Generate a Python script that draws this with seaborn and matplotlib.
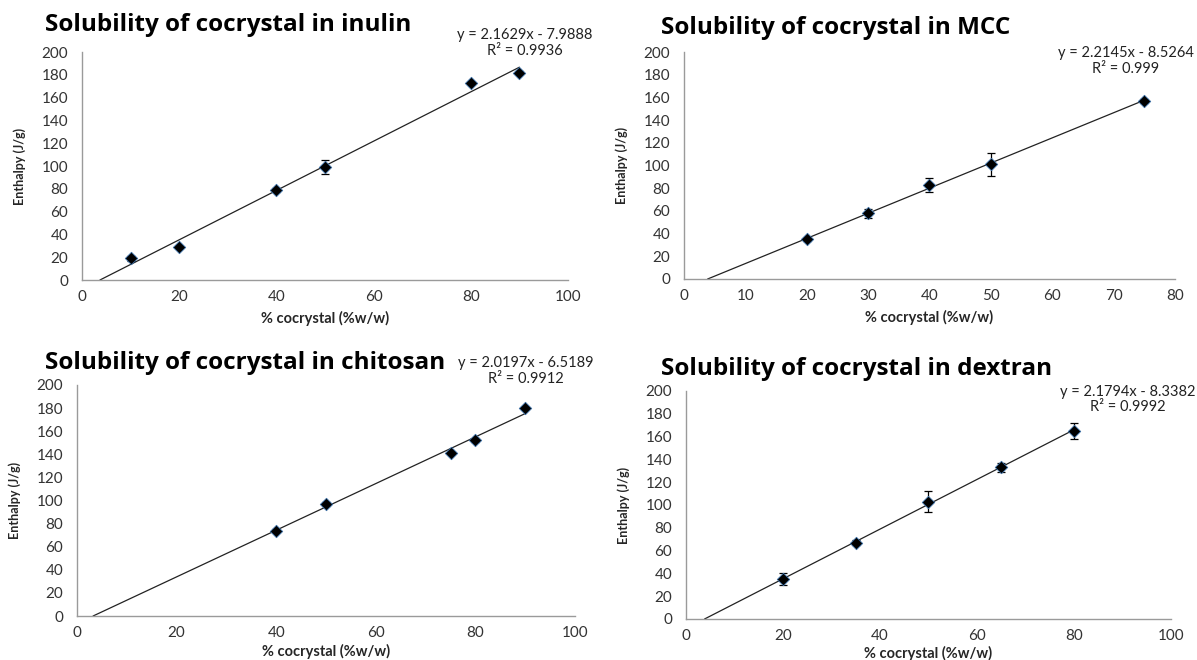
import numpy as np
import pandas as pd
import matplotlib
matplotlib.use("Agg")
import matplotlib.pyplot as plt
import seaborn as sns

sns.set_theme(style="white")
plt.rcParams['font.family'] = ['Lato', 'DejaVu Sans']

# ---- data ----
titles = ["Solubility of cocrystal in inulin", "Solubility of cocrystal in MCC",
          "Solubility of cocrystal in chitosan", "Solubility of cocrystal in dextran"]

inulin_x = [10, 20, 40, 50, 80, 90]
inulin_y = [19, 29, 79, 99, 173, 182]
inulin_err = [2, 1, 2, 6, 1, 1]

mcc_x = [20, 30, 40, 50, 75]
mcc_y = [35, 58, 83, 101, 157]
mcc_err = [1.5, 4, 6, 10, 1.5]

chitosan_x = [40, 50, 75, 80, 90]
chitosan_y = [74, 97, 141, 152, 180]
chitosan_err = [1, 1.5, 1, 1, 1]

dextran_x = [20, 35, 50, 65, 80]
dextran_y = [35, 67, 103, 133, 165]
dextran_err = [5, 2, 9, 4, 7]

slopes = [2.1629, 2.2145, 2.0197, 2.1794]
intercepts = [-7.9888, -8.5264, -6.5189, -8.3382]
eq_lines = ["y = 2.1629x - 7.9888", "y = 2.2145x - 8.5264",
            "y = 2.0197x - 6.5189", "y = 2.1794x - 8.3382"]
r2_lines = ["R² = 0.9936", "R² = 0.999", "R² = 0.9912", "R² = 0.9992"]
xmax_list = [100, 80, 100, 100]
xstep_list = [20, 10, 20, 20]
yticks = list(range(0, 201, 20))

series = [(inulin_x, inulin_y, inulin_err),
          (mcc_x, mcc_y, mcc_err),
          (chitosan_x, chitosan_y, chitosan_err),
          (dextran_x, dextran_y, dextran_err)]

W, H = 1197, 660
fig = plt.figure(figsize=(W / 100, H / 100), dpi=100)

# axes boxes in pixels: left, right, top, bottom
boxes = [(82, 568, 52, 280), (684, 1175, 52, 279),
         (77, 575, 385, 616), (686, 1171, 391, 619)]
title_pos = [(45, 25), (661, 28), (45, 363), (661, 369)]
# centre x, y of equation line and R² line
eq_pos = [(525, 35, 51), (1126, 53, 69), (526, 363, 379), (1128, 392, 407)]
xlabel_pad = [5, 5, 3, 2]

for i, ((l, r, t, b), (xs, ys, es)) in enumerate(zip(boxes, series)):
    ax = fig.add_axes([l / W, 1 - b / H, (r - l) / W, (b - t) / H])
    df = pd.DataFrame({"x": xs, "y": ys})
    ax.errorbar(xs, ys, yerr=es, fmt="none", ecolor="black", elinewidth=0.9,
                capsize=3, capthick=0.9, zorder=2)
    sns.scatterplot(data=df, x="x", y="y", marker="D", s=40, color="black",
                    edgecolor="#3a6ea5", linewidth=0.6, ax=ax, zorder=3)
    x0 = -intercepts[i] / slopes[i]
    x1 = max(xs)
    tx = np.array([x0, x1])
    ax.plot(tx, slopes[i] * tx + intercepts[i], color="#222222", lw=0.9, zorder=1)

    ax.set_xlim(0, xmax_list[i])
    ax.set_ylim(0, 200)
    ax.set_xticks(list(range(0, xmax_list[i] + 1, xstep_list[i])))
    ax.set_yticks(yticks)
    ax.tick_params(axis="both", length=0, labelsize=11, colors="#333333")
    ax.tick_params(axis="x", pad=7)
    ax.tick_params(axis="y", pad=10)
    for s in ["top", "right"]:
        ax.spines[s].set_visible(False)
    for s in ["left", "bottom"]:
        ax.spines[s].set_color("#9a9a9a")
        ax.spines[s].set_linewidth(1.0)
    ax.set_xlabel("% cocrystal (%w/w)", fontsize=10.5, fontweight="bold",
                  labelpad=xlabel_pad[i])
    ax.set_ylabel("Enthalpy (J/g)", fontsize=9, fontweight="bold", labelpad=11)

    fig.text(title_pos[i][0] / W, 1 - title_pos[i][1] / H, titles[i],
             fontsize=17.5, fontweight="bold", ha="left", va="center", color="black",
             family=["Open Sans", "DejaVu Sans"])
    cx, y1, y2 = eq_pos[i]
    fig.text(cx / W, 1 - y1 / H, eq_lines[i], fontsize=10.5, ha="center",
             va="center", color="#222222")
    fig.text(cx / W, 1 - y2 / H, r2_lines[i], fontsize=10.5, ha="center",
             va="center", color="#222222")

fig.savefig("out.png", dpi=100)
